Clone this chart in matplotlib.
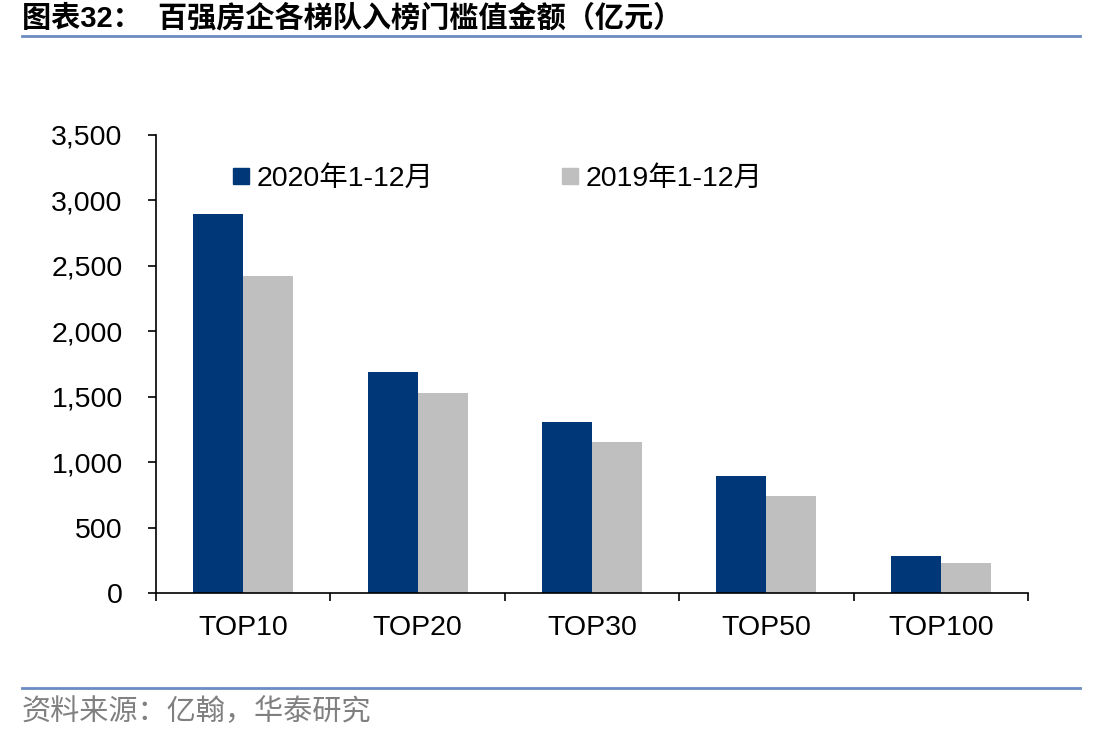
import matplotlib

matplotlib.use("Agg")
import matplotlib.pyplot as plt
import numpy as np
from matplotlib.lines import Line2D

plt.rcParams["font.family"] = ["Liberation Sans", "Noto Sans CJK SC", "DejaVu Sans"]

CATEGORIES = ["TOP10", "TOP20", "TOP30", "TOP50", "TOP100"]
VALUES_2020 = [2893, 1689, 1307, 894, 283]
VALUES_2019 = [2422, 1526, 1154, 741, 229]
SERIES_LABELS = ["2020年1-12月", "2019年1-12月"]
Y_TICKS = [0, 500, 1000, 1500, 2000, 2500, 3000, 3500]

TITLE = "图表32：  百强房企各梯队入榜门槛值金额（亿元）"
SOURCE = "资料来源：亿翰，华泰研究"

COLOR_2020 = "#003778"
COLOR_2019 = "#bfbfbf"
COLOR_RULE = "#6a8cc0"
COLOR_SOURCE = "#808080"

W, H = 1111, 742
fig = plt.figure(figsize=(W / 100, H / 100), dpi=100)
ax = fig.add_axes([156 / W, 1 - 593 / H, (1028 - 156) / W, (593 - 135) / H])

x = np.arange(len(CATEGORIES))
bw = 0.287
ax.bar(x - bw / 2, VALUES_2020, width=bw, color=COLOR_2020, zorder=2)
ax.bar(x + bw / 2, VALUES_2019, width=bw, color=COLOR_2019, zorder=2)

ax.set_xlim(-0.5, len(CATEGORIES) - 0.5)
ax.set_ylim(0, 3500)
ax.set_yticks(Y_TICKS)
ax.set_yticklabels([f"{v:,}" for v in Y_TICKS], fontsize=20.5)
ax.set_xticks(x)
ax.set_xticklabels(CATEGORIES, fontsize=20.5)
ax.set_xticks(np.arange(-0.5, len(CATEGORIES)), minor=True)
ax.tick_params(axis="x", which="major", length=0, pad=16)
ax.tick_params(axis="x", which="minor", length=6, width=1.2, direction="out")
ax.tick_params(axis="y", length=6, width=1.2, direction="out", pad=18)
for s in ("top", "right"):
    ax.spines[s].set_visible(False)
for s in ("left", "bottom"):
    ax.spines[s].set_linewidth(1.2)

handles = [
    Line2D([], [], marker="s", linestyle="none", markersize=11.5, color=COLOR_2020),
    Line2D([], [], marker="s", linestyle="none", markersize=11.5, color=COLOR_2019),
]
leg = ax.legend(handles, SERIES_LABELS, loc="center left", bbox_to_anchor=(0.084, 0.905),
                ncol=2, frameon=False, fontsize=20.5, handletextpad=0.15,
                columnspacing=4.4, handlelength=0.8, borderaxespad=0, borderpad=0)

fig.text(22 / W, 1 - 18 / H, TITLE, fontsize=21, fontweight="bold", va="center", ha="left")
fig.add_artist(Line2D([22 / W, 1080 / W], [1 - 36 / H, 1 - 36 / H], color=COLOR_RULE, linewidth=2))
fig.add_artist(Line2D([22 / W, 1080 / W], [1 - 688 / H, 1 - 688 / H], color=COLOR_RULE, linewidth=2))
fig.text(22 / W, 1 - 712 / H, SOURCE, fontsize=21, color=COLOR_SOURCE, va="center", ha="left")

fig.savefig("out.png", dpi=100, facecolor="white")
